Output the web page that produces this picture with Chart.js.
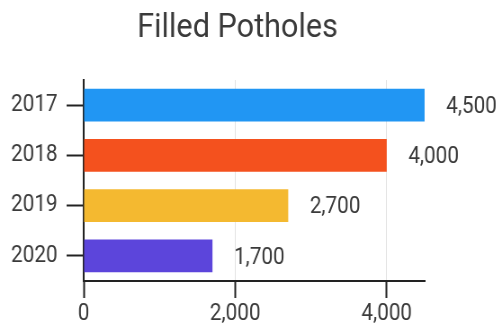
<!DOCTYPE html>
<html>
<head>
<meta charset="utf-8">
<script src="https://cdn.jsdelivr.net/npm/chart.js@4"></script>
<style>
  html, body { margin: 0; padding: 0; background: #fff; overflow: hidden; }
  #wrap { width: 502px; height: 327px; overflow: hidden; }
  /* narrow type: draw wide, squeeze horizontally */
  #chart { transform: scaleX(0.8996); transform-origin: 0 0; }
</style>
</head>
<body>
<div id="wrap"><canvas id="chart" width="558" height="327"></canvas></div>
<script>
const years = ['2017', '2018', '2019', '2020'];
const potholes = [4500, 4000, 2700, 1700];
const barColors = ['#2196f3', '#f4511e', '#f4b930', '#5c45db'];
const xTicks = [0, 2000, 4000];
const xMax = 4500;
const chartTitle = 'Filled Potholes';

const fontFamily = 'Roboto, "Noto Sans", sans-serif';
const textColor = '#3a3a3a';
const axisColor = '#222';

// title and value labels drawn straight onto the canvas
const labelsPlugin = {
  id: 'labels',
  afterDatasetsDraw(chart) {
    const ctx = chart.ctx;
    const meta = chart.getDatasetMeta(0);
    ctx.save();
    ctx.font = '23px ' + fontFamily;
    ctx.fillStyle = textColor;
    ctx.textAlign = 'left';
    ctx.textBaseline = 'middle';
    meta.data.forEach((bar, i) => {
      ctx.fillText(potholes[i].toLocaleString('en-US'), bar.x + 24, bar.y + 2);
    });
    ctx.font = '34px ' + fontFamily;
    ctx.textAlign = 'center';
    ctx.textBaseline = 'alphabetic';
    ctx.fillText(chartTitle, 264, 37);
    ctx.restore();
  }
};

new Chart(document.getElementById('chart'), {
  type: 'bar',
  data: {
    labels: years,
    datasets: [{
      data: potholes,
      backgroundColor: barColors,
      borderWidth: 0,
      barPercentage: 0.65,
      categoryPercentage: 1
    }]
  },
  options: {
    indexAxis: 'y',
    responsive: false,
    animation: false,
    devicePixelRatio: 1,
    layout: { padding: { top: 80, right: 86, left: 0, bottom: 0 } },
    plugins: {
      legend: { display: false },
      tooltip: { enabled: false },
      title: { display: false }
    },
    scales: {
      x: {
        min: 0,
        max: xMax,
        afterBuildTicks: s => { s.ticks = xTicks.map(v => ({ value: v })); },
        afterFit: s => { s.height = 46; },
        grid: { color: '#e2e2e2', lineWidth: 1, tickColor: axisColor, tickWidth: 2, tickLength: 17 },
        border: { color: axisColor, width: 2 },
        ticks: {
          font: { family: fontFamily, size: 23 },
          color: textColor,
          padding: 2,
          callback: v => v.toLocaleString('en-US')
        }
      },
      y: {
        afterFit: s => { s.width = 93; },
        grid: { drawOnChartArea: false, offset: false, tickColor: axisColor, tickWidth: 2, tickLength: 19 },
        border: { color: axisColor, width: 2 },
        ticks: { font: { family: fontFamily, size: 23 }, color: textColor, padding: 10 }
      }
    }
  },
  plugins: [labelsPlugin]
});
</script>
</body>
</html>
